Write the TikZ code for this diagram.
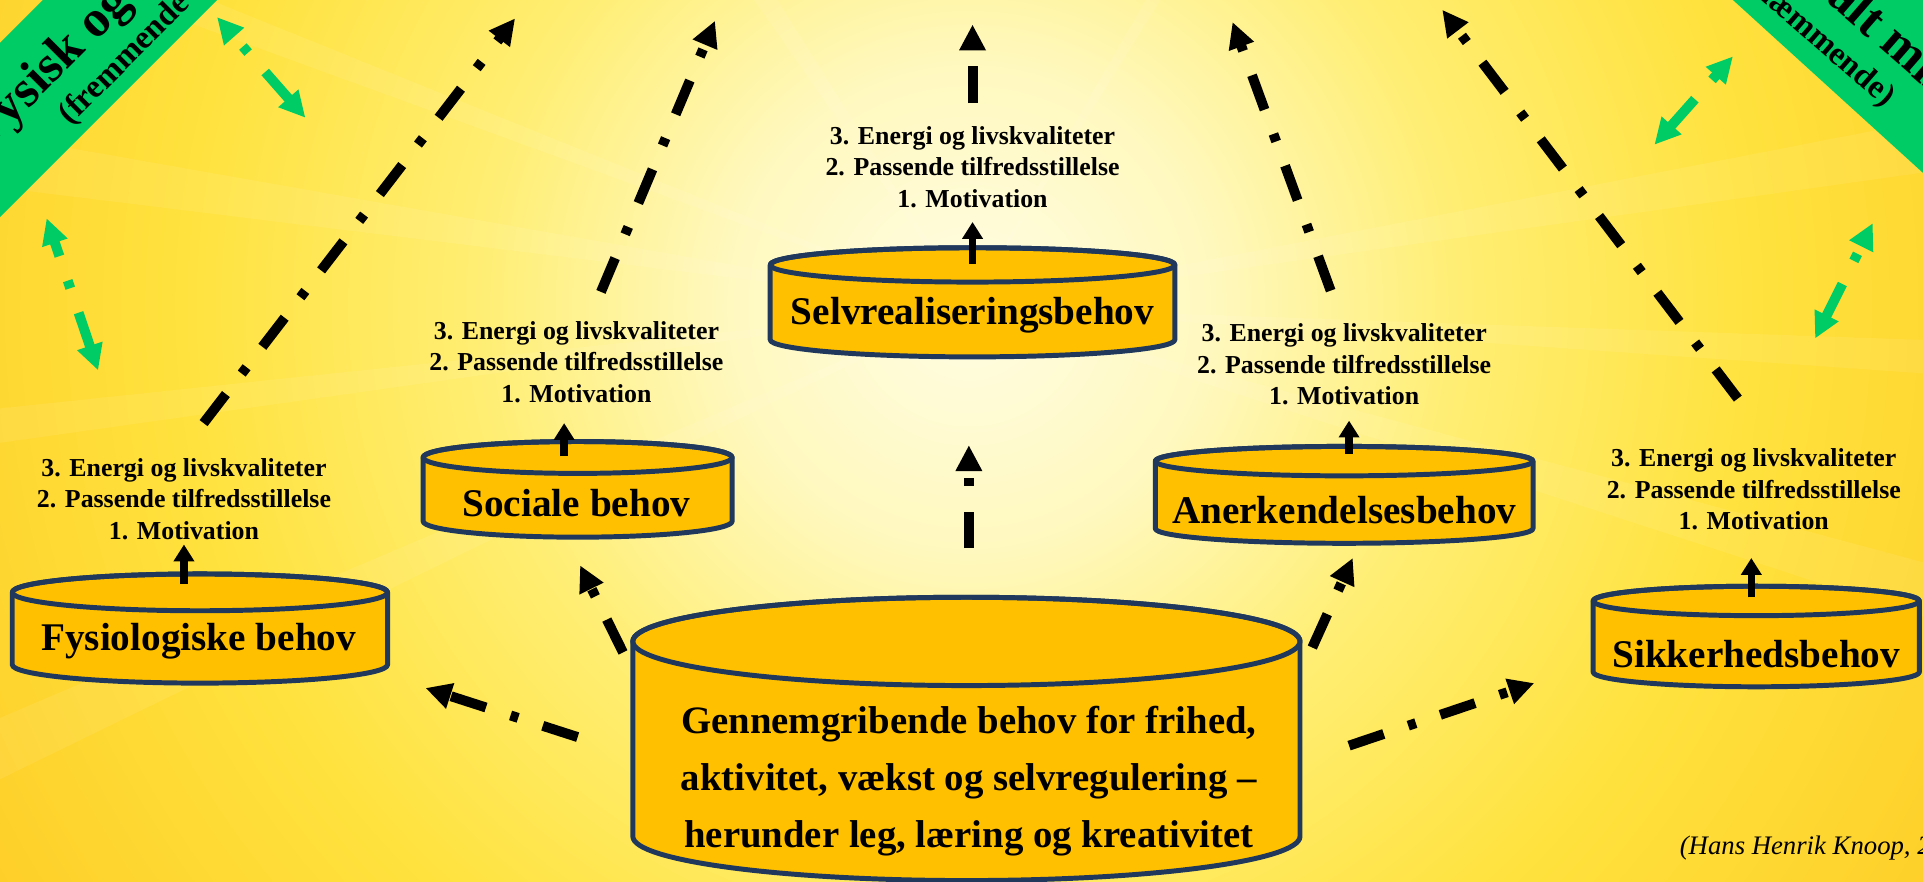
\documentclass[tikz,border=0pt]{standalone}
\usepackage{fontspec}
\setmainfont{Liberation Serif}
\usetikzlibrary{arrows.meta,positioning,calc}

\definecolor{behovgul}{RGB}{255,192,0}
\definecolor{kantbla}{RGB}{31,56,92}
\definecolor{gron}{RGB}{0,204,102}
\definecolor{sol0}{RGB}{255,253,228}
\definecolor{sol1}{RGB}{255,248,190}
\definecolor{sol2}{RGB}{255,238,115}
\definecolor{sol3}{RGB}{255,226,62}
\definecolor{sol4}{RGB}{254,207,40}
\definecolor{sol5}{RGB}{252,192,34}
\definecolor{sol6}{RGB}{250,180,30}
\pgfdeclareradialshading{solskin}{\pgfpoint{0bp}{0bp}}{color(0bp)=(sol0); color(5bp)=(sol1); color(10bp)=(sol2); color(16bp)=(sol3); color(23bp)=(sol4); color(30bp)=(sol5); color(35bp)=(sol6); color(50bp)=(sol6)}

\tikzset{
  tonde/.style={fill=behovgul, draw=kantbla, line width=1.15pt, line join=round},
  etiket/.style={font=\bfseries\fontsize{9.1}{11}\selectfont, inner sep=0pt},
  trin/.style={font=\bfseries\fontsize{6}{7.3}\selectfont, align=center, inner sep=0pt},
  pil/.style={-{Triangle[length=3.9pt,width=4.6pt]}, line width=1.7pt},
  stiplet/.style={-{Triangle[length=6pt,width=5.8pt]}, line width=2.3pt, dash pattern=on 8.5pt off 6pt on 1.85pt off 6pt},
  gronpil/.style={stiplet, {Triangle[length=6pt,width=5.8pt]}-{Triangle[length=6pt,width=5.8pt]}, draw=gron},
  storbanner/.style={font=\bfseries\fontsize{12}{14}\selectfont, inner sep=0pt},
  lillebanner/.style={font=\bfseries\fontsize{7.6}{9}\selectfont, inner sep=0pt},
  kilde/.style={font=\itshape\fontsize{6.2}{8}\selectfont, inner sep=0pt}
}

% x, top y, bottom y, x radius, y radius
\newcommand{\tromle}[5]{%
  \filldraw[tonde] (#1-#4,#2) -- (#1-#4,#3) arc[start angle=180,end angle=360,x radius=#4,y radius=#5] -- (#1+#4,#2) arc[start angle=0,end angle=180,x radius=#4,y radius=#5] -- cycle;
  \draw[tonde, fill=none] (#1,#2) ellipse[x radius=#4,y radius=#5];
}

\begin{document}
\begin{tikzpicture}
    \useasboundingbox (0,0) rectangle (15.68,-7.19);
    \clip (0,0) rectangle (15.68,-7.19);
    \fill[sol6] (0,0) rectangle (15.68,-7.19);
    \shade[shading=solskin] (7.9,-2.5) circle (10);
    \foreach \v/\w in {122/3, 158/2, 170/3, 186/2, 203/3, 342/3, 356/2, 8/3, 58/2} {
      \fill[white, opacity=0.08] (7.9,-2.5) -- +(\v:20) -- +(\v+\w:20) -- cycle;
    }

    \fill[gron] (0.35,0) -- (1.77,0) -- (0,-1.77) -- (0,-0.35) -- cycle;
    \fill[gron] (14.13,0) -- (15.68,0) -- (15.68,-1.41) -- cycle;
    \node [storbanner, rotate=45, anchor=base west](fysisk) at (-0.106,-1.226) {Fysisk og};
    \node [lillebanner, rotate=45, anchor=base west](fremmende) at (0.57,-1.03) {(fremmende};
    \node [storbanner, rotate=-41, anchor=base west](socialt) at (14.31,0.49) {Socialt miljø};
    \node [lillebanner, rotate=-41, anchor=base east](haemmende) at (15.37,-0.88) {(hæmmende)};

    \tromle{1.63}{-4.83}{-5.42}{1.53}{0.15}
    \tromle{4.71}{-3.73}{-4.25}{1.26}{0.13}
    \tromle{7.93}{-2.16}{-2.77}{1.65}{0.14}
    \tromle{10.96}{-3.76}{-4.31}{1.54}{0.12}
    \tromle{14.32}{-4.90}{-5.48}{1.33}{0.12}
    \tromle{7.88}{-5.23}{-6.82}{2.72}{0.36}

    \node [etiket](fys) at (1.62,-5.23) {Fysiologiske behov};
    \node [etiket](soc) at (4.70,-4.10) {Sociale behov};
    \node [etiket](selv) at (7.93,-2.57) {Selvrealiseringsbehov};
    \node [etiket](aner) at (10.96,-4.16) {Anerkendelsesbehov};
    \node [etiket](sik) at (14.32,-5.33) {Sikkerhedsbehov};
    \node [etiket, align=center, font=\bfseries\fontsize{9}{13.3}\selectfont](genn) at (7.90,-6.37) {Gennemgribende behov for frihed,\\aktivitet, vækst og selvregulering –\\herunder leg, læring og kreativitet};

    \node [trin](fysT) at (1.50,-4.07) {3. Energi og livskvaliteter\\2. Passende tilfredsstillelse\\1. Motivation};
    \node [trin](socT) at (4.70,-2.95) {3. Energi og livskvaliteter\\2. Passende tilfredsstillelse\\1. Motivation};
    \node [trin](selvT) at (7.93,-1.36) {3. Energi og livskvaliteter\\2. Passende tilfredsstillelse\\1. Motivation};
    \node [trin](anerT) at (10.96,-2.97) {3. Energi og livskvaliteter\\2. Passende tilfredsstillelse\\1. Motivation};
    \node [trin](sikT) at (14.30,-3.99) {3. Energi og livskvaliteter\\2. Passende tilfredsstillelse\\1. Motivation};

    \node [kilde, anchor=base west](knoop) at (13.69,-6.97) {(Hans Henrik Knoop, 2};

    \coordinate (fysA) at (1.50,-4.76);  \coordinate (fysB) at (1.50,-4.44);
    \coordinate (socA) at (4.60,-3.72);  \coordinate (socB) at (4.60,-3.45);
    \coordinate (selvA) at (7.93,-2.15); \coordinate (selvB) at (7.93,-1.81);
    \coordinate (anerA) at (11.00,-3.70); \coordinate (anerB) at (11.00,-3.43);
    \coordinate (sikA) at (14.28,-4.87); \coordinate (sikB) at (14.28,-4.55);
    \draw[pil] (fysA) -- (fysB);
    \draw[pil] (socA) -- (socB);
    \draw[pil] (selvA) -- (selvB);
    \draw[pil] (anerA) -- (anerB);
    \draw[pil] (sikA) -- (sikB);

    \coordinate (a1) at (1.66,-3.45);  \coordinate (a2) at (4.20,-0.15);
    \coordinate (b1) at (4.90,-2.38);  \coordinate (b2) at (5.83,-0.17);
    \coordinate (c1) at (7.93,-0.84);  \coordinate (c2) at (7.93,-0.20);
    \coordinate (d1) at (10.85,-2.37); \coordinate (d2) at (10.05,-0.18);
    \coordinate (e1) at (14.17,-3.25); \coordinate (e2) at (11.76,-0.08);
    \draw[stiplet] (a1) -- (a2);
    \draw[stiplet] (b1) -- (b2);
    \draw[stiplet] (c1) -- (c2);
    \draw[stiplet] (d1) -- (d2);
    \draw[stiplet] (e1) -- (e2);

    \coordinate (f1) at (4.71,-6.01);  \coordinate (f2) at (3.47,-5.61);
    \coordinate (g1) at (5.08,-5.32);  \coordinate (g2) at (4.73,-4.61);
    \coordinate (h1) at (7.90,-4.47);  \coordinate (h2) at (7.90,-3.63);
    \coordinate (i1) at (10.70,-5.28); \coordinate (i2) at (11.03,-4.55);
    \coordinate (j1) at (11.00,-6.08); \coordinate (j2) at (12.51,-5.57);
    \draw[stiplet] (f1) -- (f2);
    \draw[stiplet] (g1) -- (g2);
    \draw[stiplet] (h1) -- (h2);
    \draw[stiplet] (i1) -- (i2);
    \draw[stiplet] (j1) -- (j2);

    \coordinate (k1) at (2.49,-0.96);  \coordinate (k2) at (1.77,-0.14);
    \coordinate (l1) at (0.80,-3.02);  \coordinate (l2) at (0.38,-1.78);
    \coordinate (m1) at (13.49,-1.18); \coordinate (m2) at (14.13,-0.46);
    \coordinate (o1) at (14.80,-2.76); \coordinate (o2) at (15.27,-1.82);
    \draw[gronpil] (k1) -- (k2);
    \draw[gronpil] (l1) -- (l2);
    \draw[gronpil] (m1) -- (m2);
    \draw[gronpil] (o1) -- (o2);
\end{tikzpicture}
\end{document}
